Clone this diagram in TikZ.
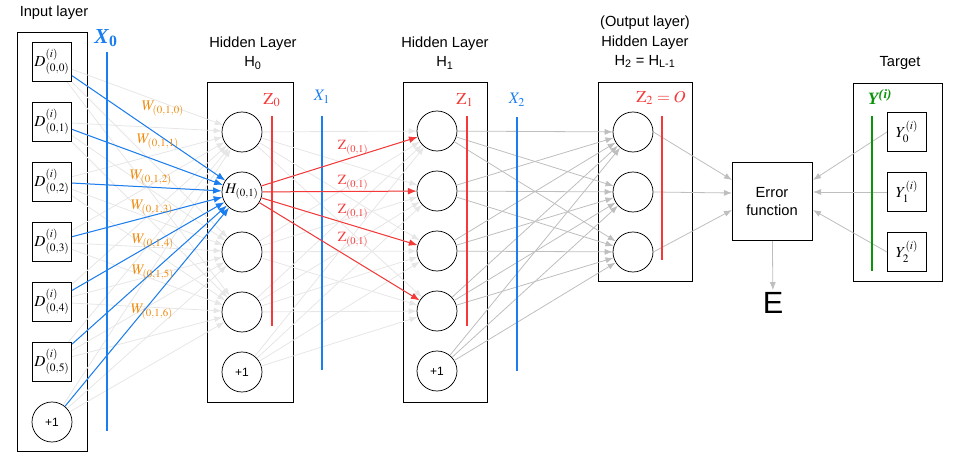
\documentclass[tikz,border=0pt]{standalone}
\usepackage{amsmath}
\usepackage{mathptmx}
\usepackage[no-math]{fontspec}
\setsansfont{Liberation Sans}
\newfontfamily\timesf{Liberation Serif}
\usetikzlibrary{arrows.meta}
\definecolor{nnblue}{HTML}{1A7EF0}
\definecolor{nnred}{HTML}{F53838}
\definecolor{nnorange}{HTML}{F08A0A}
\definecolor{nngreen}{HTML}{0A940A}
\definecolor{lightg}{HTML}{E6E6E6}
\definecolor{midg}{HTML}{BEBEBE}
\begin{document}
\begin{tikzpicture}[x=0.75pt,y=-0.75pt,
  sq/.style={draw, minimum size=29.5pt, inner sep=0pt, line width=0.6pt, font=\fontsize{11.5}{13}\selectfont},
  neu/.style={draw, circle, minimum size=30pt, inner sep=0pt, line width=0.55pt},
  layerbox/.style={draw, line width=0.6pt},
  ttl/.style={font=\sffamily\fontsize{11}{14.5}\selectfont, align=center},
  bias/.style={font=\sffamily\fontsize{9}{11}\selectfont},
  tipg/.style={-{Latex[length=6pt,width=4.5pt]}},
  lg/.style={draw=lightg, line width=0.6pt, tipg},
  mg/.style={draw=midg, line width=0.6pt, tipg},
  barr/.style={draw=nnblue, line width=0.75pt, -{Latex[length=6.5pt,width=5pt]}},
  rarr/.style={draw=nnred, line width=0.75pt, -{Latex[length=6.5pt,width=5pt]}},
  wlab/.style={text=nnorange, font=\fontsize{11}{12}\selectfont, inner sep=0.5pt},
  zlab/.style={text=nnred, font=\fontsize{10.5}{12}\selectfont, inner sep=0.5pt},
  vbar/.style={line width=1.8pt},
]
\useasboundingbox (0,0) rectangle (956,452);

% layer frames
\draw[layerbox] (17,32) rectangle (87,451);
\draw[layerbox] (207,82) rectangle (293,402);
\draw[layerbox] (403,82) rectangle (487,402);
\draw[layerbox] (598,82) rectangle (692,281);
\draw[layerbox] (853,83) rectangle (942,281);

% titles
\node[ttl] (tin) at (54,13) {Input layer};
\node[ttl] (th0) at (253,53) {Hidden Layer\\H\textsubscript{0}};
\node[ttl] (th1) at (445,53) {Hidden Layer\\H\textsubscript{1}};
\node[ttl] (tout) at (645,42) {(Output layer)\\Hidden Layer\\H\textsubscript{2} = H\textsubscript{L-1}};
\node[ttl] (ttg) at (900,63) {Target};

% input nodes
\foreach \k in {0,...,5}
  \node[sq] (in\k) at (52,{62+60*\k}) {$D^{(i)}_{(0,\k)}$};
\node[neu, bias] (in6) at (52,422) {+1};

% hidden layer 0
\node[neu] (h00) at (242,132) {};
\node[neu, font=\fontsize{11}{12}\selectfont] (h01) at (242,192) {$H_{(0,1)}$};
\node[neu] (h02) at (242,252) {};
\node[neu] (h03) at (242,312) {};
\node[neu, bias] (h04) at (242,372) {+1};

% hidden layer 1
\node[neu] (h10) at (437,131) {};
\node[neu] (h11) at (437,191) {};
\node[neu] (h12) at (437,251) {};
\node[neu] (h13) at (437,311) {};
\node[neu, bias] (h14) at (437,371) {+1};

% output layer
\node[neu] (o0) at (633,132) {};
\node[neu] (o1) at (633,192) {};
\node[neu] (o2) at (633,252) {};

% error function
\node[draw, line width=0.6pt, minimum width=60pt, minimum height=59pt, inner sep=0pt,
      font=\sffamily\fontsize{11}{14}\selectfont, align=center] (err) at (772,201.5) {Error\\function};
\node[font=\sffamily\fontsize{23}{25}\selectfont, inner sep=1.5pt] (E) at (773,303) {E};
\coordinate (ein0) at (732,180);
\coordinate (ein1) at (732,193);
\coordinate (ein2) at (732,210);
\coordinate (eout0) at (813,180);
\coordinate (eout1) at (813,192);
\coordinate (eout2) at (813,210);

% targets
\foreach \k in {0,1,2}
  \node[sq] (y\k) at (907,{132+60*\k}) {$Y^{(i)}_{\k}$};

% light gray connections
\foreach \i in {0,...,6}
  \foreach \j in {0,...,3}
    \draw[lg] (in\i) -- (h0\j);
\foreach \i in {0,...,4}
  \foreach \j in {0,...,3}
    \draw[lg] (h0\i) -- (h1\j);
% medium gray
\foreach \i in {0,...,4}
  \foreach \j in {0,1,2}
    \draw[mg] (h1\i) -- (o\j);
\draw[mg] (o0.east) -- (ein0);
\draw[mg] (o1.east) -- (ein1);
\draw[mg] (o2.east) -- (ein2);
\draw[mg] (y0.west) -- (eout0);
\draw[mg] (y1.west) -- (eout1);
\draw[mg] (y2.west) -- (eout2);
\draw[mg] (err) -- (E);

% vertical bars
\draw[vbar, draw=nnblue] (107,52) coordinate (x0t) -- (107,431) coordinate (x0b);
\draw[vbar, draw=nnblue] (322,116) coordinate (x1t) -- (322,370) coordinate (x1b);
\draw[vbar, draw=nnblue] (517,117) coordinate (x2t) -- (517,371) coordinate (x2b);
\draw[vbar, draw=nnred] (272,116) coordinate (z0t) -- (272,326) coordinate (z0b);
\draw[vbar, draw=nnred] (467,116) coordinate (z1t) -- (467,326) coordinate (z1b);
\draw[vbar, draw=nnred] (662,116) coordinate (z2t) -- (662,260) coordinate (z2b);
\draw[vbar, draw=nngreen] (872,116) coordinate (gt) -- (872,271) coordinate (gb);

% blue weights
\foreach \i in {0,...,6}
  \draw[barr] (in\i) -- (h01);
\node[wlab] (w0) at (163,109) {$W_{(0,1,0)}$};
\node[wlab] (w1) at (158,142) {$W_{(0,1,1)}$};
\node[wlab] (w2) at (151,178) {$W_{(0,1,2)}$};
\node[wlab] (w3) at (152,208) {$W_{(0,1,3)}$};
\node[wlab] (w4) at (153,242) {$W_{(0,1,4)}$};
\node[wlab] (w5) at (153,273) {$W_{(0,1,5)}$};
\node[wlab] (w6) at (152,312) {$W_{(0,1,6)}$};

% red activations
\foreach \j in {0,...,3}
  \draw[rarr] (h01) -- (h1\j);
\node[zlab] (za) at (353,148) {$\mathrm{Z}_{(0,1)}$};
\node[zlab] (zb) at (353,183) {$\mathrm{Z}_{(0,1)}$};
\node[zlab] (zc) at (353,212) {$\mathrm{Z}_{(0,1)}$};
\node[zlab] (zd) at (353,240) {$\mathrm{Z}_{(0,1)}$};

% bar labels
\node[text=nnblue, font=\timesf\bfseries\fontsize{16}{17}\selectfont, inner sep=0pt] (lx0) at (106,38) {\textit{X}\textsubscript{0}};
\node[text=nnblue, font=\fontsize{12}{13}\selectfont] (lx1) at (322,97) {$X_1$};
\node[text=nnblue, font=\fontsize{12}{13}\selectfont] (lx2) at (517,100) {$X_2$};
\node[text=nnred, font=\fontsize{12.5}{14}\selectfont] (lz0) at (272,100) {$\mathrm{Z}_0$};
\node[text=nnred, font=\fontsize{12.5}{14}\selectfont] (lz1) at (465,100) {$\mathrm{Z}_1$};
\node[text=nnred, font=\fontsize{12.5}{14}\selectfont] (lz2) at (661,98) {$\mathrm{Z}_2 = O$};
\node[text=nngreen, font=\timesf\bfseries\itshape\fontsize{13}{14}\selectfont, inner sep=0pt] (ly) at (880,97) {Y\textsuperscript{(\kern0.5pt i)}};
\end{tikzpicture}
\end{document}
